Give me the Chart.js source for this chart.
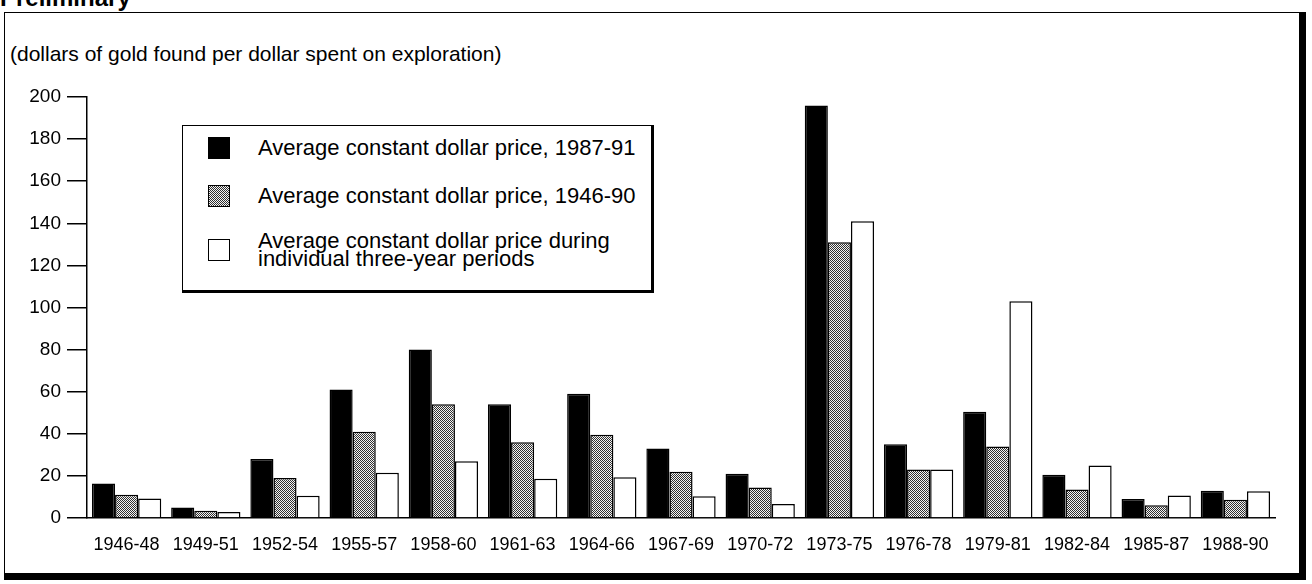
<!DOCTYPE html>
<html lang="en">

<head>
    <meta charset="UTF-8">
    <title>Gold found per exploration dollar</title>
    <script src="https://cdn.jsdelivr.net/npm/chart.js"></script>
    <style>
        body {
            margin: 0;
            width: 1312px;
            height: 584px;
            overflow: hidden;
            background: #fff;
            font-family: "Liberation Sans", Arial, sans-serif;
            position: relative;
        }

        #pre {
            position: absolute;
            left: 0;
            top: -16px;
            font-size: 24px;
            font-weight: bold;
        }

        #frame {
            position: absolute;
            left: 4px;
            top: 12px;
            width: 1302px;
            height: 568px;
            box-sizing: border-box;
            border-left: 1.5px solid #000;
            border-top: 1.5px solid #000;
            border-right: 7px solid #000;
            border-bottom: 7px solid #000;
        }

        #ylabel {
            position: absolute;
            left: 10px;
            top: 42px;
            font-size: 21px;
        }

        #chart {
            position: absolute;
            left: 0;
            top: 0;
        }

        #legend {
            position: absolute;
            left: 182px;
            top: 125px;
            width: 472px;
            height: 168px;
            box-sizing: border-box;
            border: 1.5px solid #000;
            border-right-width: 3px;
            border-bottom-width: 3px;
            background: #fff;
            font-size: 22px;
            line-height: 18px;
        }

        .item {
            position: absolute;
            left: 25px;
        }

        .sw {
            position: absolute;
            left: 0;
            width: 22px;
            height: 22px;
            box-sizing: border-box;
            border: 1.5px solid #000;
        }

        .txt {
            position: absolute;
            left: 50px;
            white-space: nowrap;
        }
    </style>
</head>

<body>
    <div id="pre">Preliminary</div>
    <div id="frame"></div>
    <div id="ylabel">(dollars of gold found per dollar spent on exploration)</div>
    <canvas id="chart" width="1312" height="584"></canvas>
    <div id="legend"></div>

    <script>
        const periods = ['1946-48', '1949-51', '1952-54', '1955-57', '1958-60', '1961-63', '1964-66', '1967-69',
            '1970-72', '1973-75', '1976-78', '1979-81', '1982-84', '1985-87', '1988-90'];
        const price8791 = [16.4, 5, 28, 61, 80, 54, 59, 33, 21, 196, 35, 50.5, 20.5, 9, 13];
        const price4690 = [11, 3.5, 19, 41, 54, 36, 39.5, 22, 14.5, 131, 23, 34, 13.5, 6, 8.7];
        const priceThreeYear = [9.3, 2.8, 10.6, 21.5, 27, 18.6, 19.4, 10.3, 6.6, 141, 23, 103, 25, 10.7, 12.7];
        const seriesNames = [
            ['Average constant dollar price, 1987-91'],
            ['Average constant dollar price, 1946-90'],
            ['Average constant dollar price during', 'individual three-year periods']
        ];
        const yTicks = [0, 20, 40, 60, 80, 100, 120, 140, 160, 180, 200];

        // halftone fill for the middle series
        const pc = document.createElement('canvas');
        pc.width = 2; pc.height = 2;
        const pctx = pc.getContext('2d');
        pctx.fillStyle = '#f4f4f4'; pctx.fillRect(0, 0, 2, 2);
        pctx.fillStyle = '#303030'; pctx.fillRect(0, 0, 1, 1); pctx.fillRect(1, 1, 1, 1);
        const dots = document.getElementById('chart').getContext('2d').createPattern(pc, 'repeat');

        const fills = ['#000', dots, '#fff'];

        // legend box, built from the series names
        const legend = document.getElementById('legend');
        const tops = [13, 61, 106];
        seriesNames.forEach((lines, i) => {
            const item = document.createElement('div');
            item.className = 'item';
            item.style.top = tops[i] + 'px';
            const sw = document.createElement('div');
            sw.className = 'sw';
            sw.style.top = (lines.length > 1 ? 7 : -2) + 'px';
            if (i === 0) sw.style.background = '#000';
            else if (i === 1) sw.style.background = 'repeating-conic-gradient(#303030 0 25%, #f4f4f4 0 50%) 0 0 / 2px 2px';
            else sw.style.background = '#fff';
            const txt = document.createElement('div');
            txt.className = 'txt';
            txt.innerHTML = lines.join('<br>');
            item.appendChild(sw);
            item.appendChild(txt);
            legend.appendChild(item);
        });

        const fnt = { family: '"Liberation Sans", Arial, sans-serif', size: 19 };

        new Chart(document.getElementById('chart'), {
            type: 'bar',
            data: {
                labels: periods,
                datasets: [price8791, price4690, priceThreeYear].map((d, i) => ({
                    label: seriesNames[i].join(' '),
                    data: d,
                    backgroundColor: fills[i],
                    borderColor: '#000',
                    borderWidth: 1.5,
                    categoryPercentage: 0.875,
                    barPercentage: 1.0
                }))
            },
            options: {
                responsive: false,
                animation: false,
                layout: { padding: { top: 97, right: 37, left: 0, bottom: 0 } },
                plugins: { legend: { display: false }, tooltip: { enabled: false } },
                scales: {
                    y: {
                        min: 0,
                        max: 200,
                        afterBuildTicks: s => { s.ticks = yTicks.map(v => ({ value: v })); },
                        afterFit: s => { s.width = 87; },
                        border: { display: true, color: '#000', width: 1.5 },
                        grid: { drawOnChartArea: false, color: '#000', lineWidth: 1.5, tickLength: 20 },
                        ticks: { color: '#000', font: fnt, padding: 6 }
                    },
                    x: {
                        afterFit: s => { s.height = 66; },
                        border: { display: true, color: '#000', width: 1.5 },
                        grid: { display: false },
                        ticks: { color: '#000', font: { ...fnt, size: 18 }, padding: 8, maxRotation: 0, autoSkip: false }
                    }
                }
            }
        });
    </script>
</body>

</html>
